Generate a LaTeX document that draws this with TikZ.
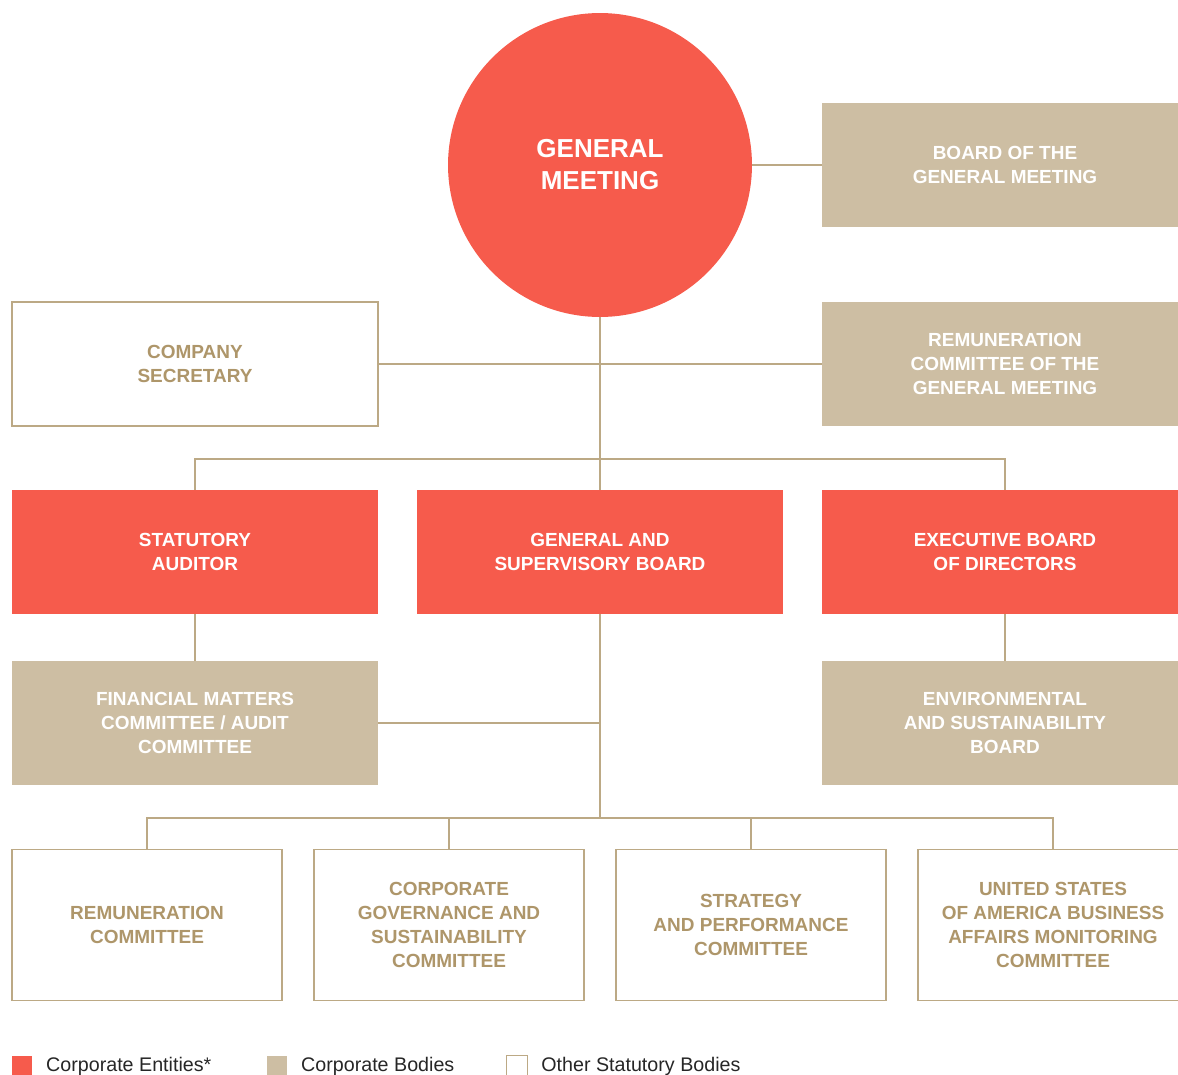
\documentclass[tikz,border=0pt]{standalone}
\usepackage{fontspec}
\setmainfont{Liberation Sans}
\usetikzlibrary{positioning, calc}
\definecolor{govred}{HTML}{F65B4C}
\definecolor{govtan}{HTML}{CDBEA3}
\definecolor{govline}{HTML}{BCA985}
\definecolor{govtext}{HTML}{AE966A}
\newcommand{\boxlabel}[1]{{\bfseries #1}}
\newcommand{\bigbox}{7.32cm}
\newcommand{\smallbox}{5.4cm}

\begin{document}
\begin{tikzpicture}[
    x=0.02cm, y=-0.02cm,
    base/.style={
        rectangle,
        align=center,
        minimum width=\bigbox,
        minimum height=2.48cm,
        inner sep=4pt,
        font=\fontsize{10.8}{13.6}\selectfont,
        anchor=center
    },
    entity/.style={base, fill=govred, text=white},
    body/.style={base, fill=govtan, text=white},
    other/.style={base, fill=white, draw=govline, line width=0.8pt, text=govtext},
    committee/.style={other, minimum width=\smallbox, minimum height=3.02cm},
    link/.style={draw=govline, line width=0.8pt},
    keybox/.style={rectangle, minimum size=0.42cm, inner sep=0pt},
    keytext/.style={font=\fontsize{11.2}{13}\selectfont, text=black!85, inner sep=0pt}
]

    \useasboundingbox (0,0) rectangle (1178,1075);
    \clip (0,0) rectangle (1178,1075);

    % --- connectors first, boxes are drawn on top ---
    \coordinate (busTop) at (600,459);
    \coordinate (busMid) at (600,723);
    \coordinate (busLow) at (600,818);

    % --- 1) General meeting ---
    \node[circle, fill=govred, text=white, minimum size=6.08cm, align=center,
          font=\fontsize{14.8}{18.2}\selectfont] (gm) at (600,165)
        {\boxlabel{GENERAL}\\\boxlabel{MEETING}};

    % --- 2) bodies attached to the general meeting ---
    \node[body]  (bgm)  at (1005,165) {\boxlabel{BOARD OF THE}\\\boxlabel{GENERAL MEETING}};
    \node[other] (cs)   at (195,364)  {\boxlabel{COMPANY}\\\boxlabel{SECRETARY}};
    \node[body]  (rcgm) at (1005,364) {\boxlabel{REMUNERATION}\\\boxlabel{COMMITTEE OF THE}\\\boxlabel{GENERAL MEETING}};

    % --- 3) corporate entities ---
    \node[entity] (sa)  at (195,552)  {\boxlabel{STATUTORY}\\\boxlabel{AUDITOR}};
    \node[entity] (gsb) at (600,552)  {\boxlabel{GENERAL AND}\\\boxlabel{SUPERVISORY BOARD}};
    \node[entity] (eb)  at (1005,552) {\boxlabel{EXECUTIVE BOARD}\\\boxlabel{OF DIRECTORS}};

    % --- 4) bodies below the entities ---
    \node[body] (fm)  at (195,723)  {\boxlabel{FINANCIAL MATTERS}\\\boxlabel{COMMITTEE / AUDIT}\\\boxlabel{COMMITTEE}};
    \node[body] (esb) at (1005,723) {\boxlabel{ENVIRONMENTAL}\\\boxlabel{AND SUSTAINABILITY}\\\boxlabel{BOARD}};

    % --- 5) committees of the supervisory board ---
    \node[committee] (rc) at (147,925)  {\boxlabel{REMUNERATION}\\\boxlabel{COMMITTEE}};
    \node[committee] (cg) at (449,925)  {\boxlabel{CORPORATE}\\\boxlabel{GOVERNANCE AND}\\\boxlabel{SUSTAINABILITY}\\\boxlabel{COMMITTEE}};
    \node[committee] (sp) at (751,925)  {\boxlabel{STRATEGY}\\\boxlabel{AND PERFORMANCE}\\\boxlabel{COMMITTEE}};
    \node[committee] (us) at (1053,925) {\boxlabel{UNITED STATES}\\\boxlabel{OF AMERICA BUSINESS}\\\boxlabel{AFFAIRS MONITORING}\\\boxlabel{COMMITTEE}};

    % --- links ---
    \draw[link] (gm.east) -- (bgm.west);
    \draw[link] (gm.south) -- (gsb.north);
    \draw[link] (cs.east) -- (rcgm.west);
    \draw[link] (sa.north) |- (busTop) -| (eb.north);
    \draw[link] (sa.south) -- (fm.north);
    \draw[link] (eb.south) -- (esb.north);
    \draw[link] (gsb.south) -- (busLow);
    \draw[link] (fm.east) -- (busMid);
    \draw[link] (rc.north) |- (busLow) -| (us.north);
    \draw[link] (cg.north) -- (cg.north |- busLow);
    \draw[link] (sp.north) -- (sp.north |- busLow);

    % --- legend ---
    \node[keybox, fill=govred] (keyEntity) at (22,1066) {};
    \node[keytext, right=0.26cm of keyEntity] (txtEntity) {Corporate Entities*};
    \node[keybox, fill=govtan] (keyBody) at (277,1066) {};
    \node[keytext, right=0.26cm of keyBody] (txtBody) {Corporate Bodies};
    \node[keybox, draw=govline, line width=0.6pt] (keyOther) at (517,1066) {};
    \node[keytext, right=0.26cm of keyOther] (txtOther) {Other Statutory Bodies};

\end{tikzpicture}
\end{document}
